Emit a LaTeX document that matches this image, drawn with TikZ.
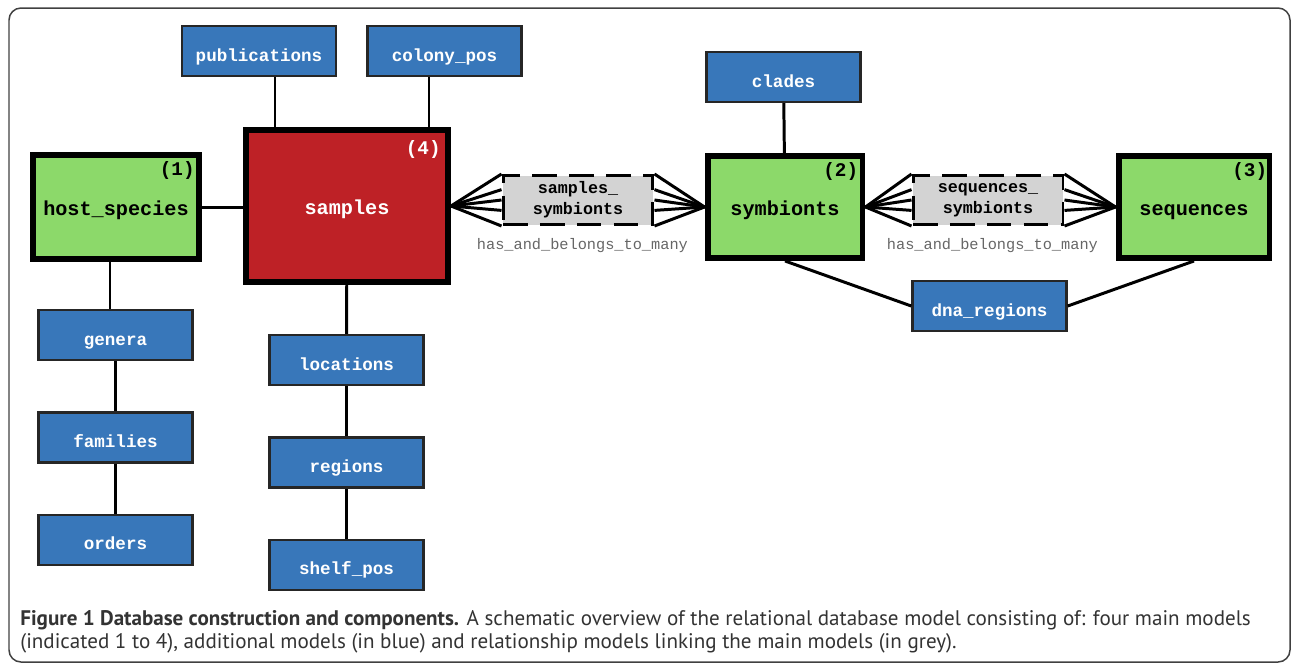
\documentclass[tikz,border=0pt]{standalone}
\usepackage{fontspec}
\setmonofont{Liberation Mono}
\newfontfamily\capfont{PT Sans}
\usepackage{tikz}
\usetikzlibrary{positioning,calc}

\definecolor{mainGreen}{HTML}{8CD96A}
\definecolor{mainRed}{HTML}{BE2126}
\definecolor{addBlue}{HTML}{3877BA}
\definecolor{linkGrey}{HTML}{D3D3D3}

\tikzset{
  base/.style={rectangle, draw=black, inner sep=0pt},
  mainmodel/.style={base, line width=3.4pt, text height=12.5pt, text depth=2.5pt,
    font=\ttfamily\bfseries\fontsize{11.5}{13}\selectfont},
  addmodel/.style={base, fill=addBlue, draw=black!85, line width=1.4pt, text=white,
    text height=13.5pt, text depth=2pt,
    minimum width=3.08cm, minimum height=1.0cm, font=\ttfamily\bfseries\fontsize{10}{12}\selectfont},
  linkmodel/.style={base, fill=linkGrey, dash pattern=on 14pt off 7pt, line width=1.7pt,
    minimum width=3.0cm, minimum height=0.98cm, align=center, inner ysep=0pt,
    font=\ttfamily\bfseries\fontsize{9.5}{11.8}\selectfont},
  num/.style={font=\ttfamily\bfseries\fontsize{11}{13}\selectfont, anchor=north east, inner sep=0pt},
  habtm/.style={font=\ttfamily\fontsize{8.7}{10}\selectfont, text=black!60, inner sep=0pt},
  conn/.style={line width=1.7pt}
}

\begin{document}
\begin{tikzpicture}[x=0.02cm, y=-0.02cm]
  \useasboundingbox (0,0) rectangle (1292,664);
  \draw[black!75, line width=0.85pt, rounded corners=0.24cm] (9,8) rectangle (1290,662);

  % main models
  \node (host) [mainmodel, fill=mainGreen, minimum width=3.32cm, minimum height=2.08cm] at (116,207) {host\_species};
  \node (samples) [mainmodel, fill=mainRed, text=white, minimum width=4.04cm, minimum height=3.04cm] at (347,206) {samples};
  \node (sym) [mainmodel, fill=mainGreen, minimum width=3.1cm, minimum height=2.04cm] at (785,207) {symbionts};
  \node (seq) [mainmodel, fill=mainGreen, minimum width=3.02cm, minimum height=2.04cm] at (1194,207) {sequences};

  \node (n1) [num] at ([shift={(-7,9)}]host.north east) {(1)};
  \node (n4) [num, text=white] at ([shift={(-10,13)}]samples.north east) {(4)};
  \node (n2) [num] at ([shift={(-7,9)}]sym.north east) {(2)};
  \node (n3) [num] at ([shift={(-5,9)}]seq.north east) {(3)};

  % relationship models
  \node (ss) [linkmodel] at (578,200) {samples\_\\symbionts};
  \node (sqs) [linkmodel] at (988,200) {sequences\_\\symbionts};
  \node (ssl) [habtm, below=0.25cm of ss, xshift=2.5] {has\_and\_belongs\_to\_many};
  \node (sqsl) [habtm, below=0.25cm of sqs, xshift=2.5] {has\_and\_belongs\_to\_many};

  % additional models
  \node (pub) [addmodel] at (259,51) {publications};
  \node (colony) [addmodel] at (444.5,51) {colony\_pos};
  \node (clades) [addmodel] at (783.5,77) {clades};
  \node (genera) [addmodel] at (115.5,335) {genera};
  \node (families) [addmodel, below=1cm of genera] {families};
  \node (orders) [addmodel, below=1cm of families] {orders};
  \node (loc) [addmodel] at (346.5,360) {locations};
  \node (regions) [addmodel, below=1cm of loc] {regions};
  \node (shelf) [addmodel, below=1cm of regions] {shelf\_pos};
  \node (dna) [addmodel] at (989.5,306) {dna\_regions};

  % connectors
  \coordinate (p1) at (275,0);
  \coordinate (p2) at (429,0);
  \draw[conn] (pub.south -| p1) -- (samples.north -| p1);
  \draw[conn] (colony.south -| p2) -- (samples.north -| p2);
  \draw[conn] (host.east) -- (host.east -| samples.west);
  \draw[conn] (host.south -| 110,0) -- (genera.north -| 110,0);
  \draw[conn] (genera) -- (families);
  \draw[conn] (families) -- (orders);
  \draw[conn] (samples) -- (loc);
  \draw[conn] (loc) -- (regions);
  \draw[conn] (regions) -- (shelf);
  \draw[conn] (clades) -- (sym);
  \draw[conn] (sym.south) -- (dna.west);
  \draw[conn] (seq.south) -- (dna.east);

  \foreach \f in {0,.3,.5,.7,1} {
    \draw[conn] (samples.east) -- ($(ss.north west)!\f!(ss.south west)$);
    \draw[conn] (sym.west) -- ($(ss.north east)!\f!(ss.south east)$);
    \draw[conn] (sym.east) -- ($(sqs.north west)!\f!(sqs.south west)$);
    \draw[conn] (seq.west) -- ($(sqs.north east)!\f!(sqs.south east)$);
  }

  \node (caption) [anchor=north west, align=left, inner sep=0pt, text=black!80,
    font=\capfont\fontsize{12}{13}\selectfont] at (20,610)
    {\textbf{Figure 1 Database construction and components.} A schematic overview of the relational database model consisting of: four main models\\
     (indicated 1 to 4), additional models (in blue) and relationship models linking the main models (in grey).};
\end{tikzpicture}
\end{document}
